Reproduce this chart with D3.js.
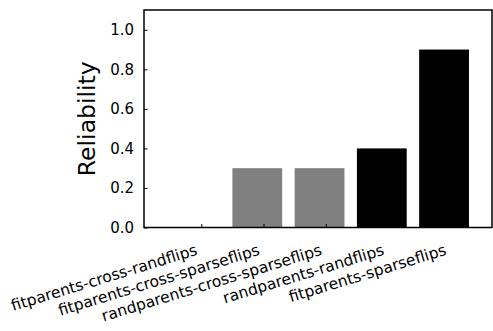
<!DOCTYPE html>
<html>
<head>
<meta charset="utf-8">
<script src="https://cdn.jsdelivr.net/npm/d3@7"></script>
<style>
  body { margin: 0; background: #fff; }
  svg { display: block; font-family: 'DejaVu Sans', sans-serif; }
</style>
</head>
<body>
<svg id="chart" width="493" height="331"></svg>
<script>
// Data
const categories = [
  'fitparents-cross-randflips',
  'fitparents-cross-sparseflips',
  'randparents-cross-sparseflips',
  'randparents-randflips',
  'fitparents-sparseflips',
];
const values = [0.0, 0.3, 0.3, 0.4, 0.9];
const colors = ['#808080', '#808080', '#808080', '#000000', '#000000'];
const yTicks = [0, 0.2, 0.4, 0.6, 0.8, 1.0];

const svg = d3.select('#chart');
const plotLeft = 144;
const plotRight = 492;
const plotTop = 10;
const plotBottom = 227.5;

// Scales
const x = d3.scaleLinear().domain([-0.42, 5.17]).range([plotLeft, plotRight]);
const y = d3.scaleLinear().domain([0, 1.1]).range([plotBottom, plotTop]);

// Bars
svg.append('g')
  .selectAll('rect')
  .data(values)
  .enter().append('rect')
  .attr('x', (d, i) => x(i))
  .attr('width', (d, i) => x(i + 0.8) - x(i))
  .attr('y', (d) => y(d))
  .attr('height', (d) => y(0) - y(d))
  .attr('fill', (d, i) => colors[i]);

// Y axis (ticks inward)
const yAxis = d3.axisLeft(y)
  .tickValues(yTicks)
  .tickFormat(d3.format('.1f'))
  .tickSize(-3.5)
  .tickPadding(10);

svg.append('g')
  .attr('transform', `translate(${plotLeft},0)`)
  .call(yAxis)
  .call((g) => g.select('.domain').remove())
  .call((g) => g.selectAll('line').attr('stroke', '#000').attr('stroke-width', 1))
  .call((g) => g.selectAll('text')
    .attr('font-size', 15)
    .attr('fill', '#000')
    .attr('font-family', 'DejaVu Sans'));

// X axis ticks (inward) + rotated labels
const xAxis = d3.axisBottom(x)
  .tickValues(categories.map((c, i) => i + 0.5))
  .tickFormat('')
  .tickSize(-3.5);

svg.append('g')
  .attr('transform', `translate(0,${plotBottom})`)
  .call(xAxis)
  .call((g) => g.select('.domain').remove())
  .call((g) => g.selectAll('line').attr('stroke', '#000').attr('stroke-width', 1));

svg.append('g')
  .selectAll('text')
  .data(categories)
  .enter().append('text')
  .attr('transform', (d, i) => `translate(${x(i + 0.5) - 3},${plotBottom + 27}) rotate(-17)`)
  .attr('text-anchor', 'end')
  .attr('font-size', 15.5)
  .attr('fill', '#000')
  .text((d) => d);

// Frame
svg.append('rect')
  .attr('x', plotLeft)
  .attr('y', plotTop)
  .attr('width', plotRight - plotLeft)
  .attr('height', plotBottom - plotTop)
  .attr('fill', 'none')
  .attr('stroke', '#000')
  .attr('stroke-width', 1.5);

// Y label
svg.append('text')
  .attr('transform', `translate(94.5,${(plotTop + plotBottom) / 2}) rotate(-90)`)
  .attr('text-anchor', 'middle')
  .attr('font-size', 23.5)
  .attr('fill', '#000')
  .text('Reliability');
</script>
</body>
</html>
